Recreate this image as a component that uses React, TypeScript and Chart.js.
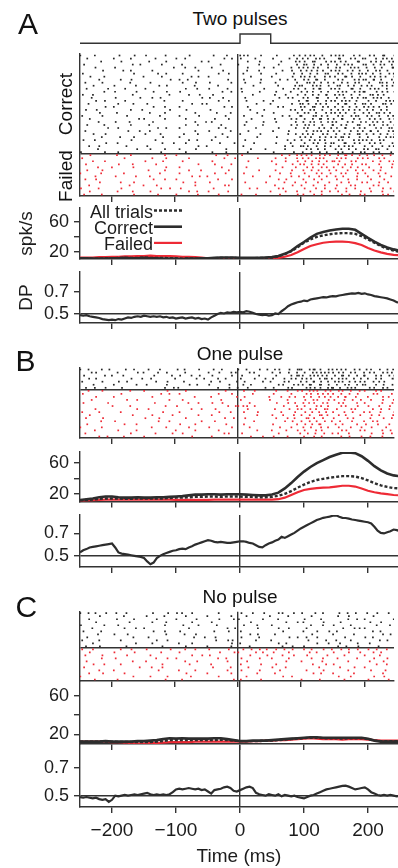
import React, { useEffect, useRef } from 'react';
import { Chart, registerables } from 'chart.js';
Chart.register(...registerables);

// ---------------- data ----------------
const X_MIN = -250;
const X_MAX = 246.875;
const X_TICKS = [-200, -100, 0, 100, 200];
const X_TICK_LABELS = ['\u2212200', '\u2212100', '0', '100', '200'];
const X_TITLE = 'Time (ms)';

const RATE_TICKS = [20, 40, 60];
const RATE_TICK_LABELS = ['20', '', '60'];
const DP_TICKS = [0.5, 0.7];
const DP_TICK_LABELS = ['0.5', '0.7'];
const DP_REFERENCE = [0.5];

const STIM_T = [-250, 0, 0, 48, 48, 250];
const STIM_V = [0, 0, 1, 1, 0, 0];

const RATE_T = Array.from({ length: 51 }, (_, i) => -250 + 10 * i);
const DP_T = Array.from({ length: 101 }, (_, i) => -250 + 5 * i);

const LEGEND_ORDER = ['All trials', 'Correct', 'Failed'];
const TITLES = ['Two pulses', 'One pulse', 'No pulse'];
const PANEL_LETTERS = ['A', 'B', 'C'];
const RASTER_GROUPS = ['Correct', 'Failed'];

// firing rates (spk/s), t = -250..250 ms, 10 ms step
const RATE_A_CORRECT = [
  11, 11, 10.5, 10.5, 10.5, 11, 11, 11.5, 11, 11,
  11.5, 11, 11, 10.5, 10.5, 10.5, 10, 10.5, 10.5, 11,
  11, 11.5, 12, 12, 12, 11.5, 11.5, 11.5, 11.5, 12,
  12.5, 14, 17, 21, 27.5, 33, 39, 44, 46.5, 48.5,
  50, 51, 51, 49.5, 44, 38.5, 33.5, 29, 25.5, 23,
  21,
];
const RATE_A_ALL = [
  11, 11, 10.5, 10.5, 11, 11, 11.5, 11.5, 11.5, 11.5,
  12, 11.5, 11.5, 11.5, 11, 11, 10.5, 11, 10.5, 11,
  11, 11, 11.5, 11.5, 11.5, 11, 11, 11, 11.5, 11.5,
  12, 13.5, 16.5, 20.5, 26, 32, 36.5, 40, 42, 43.5,
  44.5, 45, 45, 44, 41, 36.5, 32, 27.5, 24, 21.5,
  19.5,
];
const RATE_A_FAILED = [
  12, 12, 12, 12.5, 12.5, 13, 13, 13.5, 13.5, 14,
  14, 14.5, 14, 14, 14, 13.5, 13, 13, 12.5, 12,
  11, 10.5, 10.5, 10.5, 10.5, 10.5, 10.5, 10.5, 10.5, 10.5,
  11, 11.5, 13, 15.5, 19, 23.5, 27.5, 30, 32, 33,
  33.5, 33.5, 33, 31.5, 29, 25, 21.5, 19, 17, 15.5,
  15,
];
const RATE_B_CORRECT = [
  12, 13, 14, 15.5, 16.5, 16.5, 15.5, 15, 15, 15.5,
  15, 15, 15.5, 15.5, 16, 16.5, 17, 18, 19, 19,
  19.5, 19.5, 19, 19.5, 19.5, 19.5, 19, 18.5, 18, 18,
  19, 21.5, 27, 34, 42, 49, 55, 60, 64, 68,
  71, 73.5, 74, 73, 69, 63, 56, 50.5, 46.5, 44,
  43,
];
const RATE_B_ALL = [
  11, 12, 12.5, 13.5, 14, 14, 14, 13.5, 13.5, 14,
  14, 14, 14, 14, 14.5, 15, 15, 15.5, 16, 16,
  16.5, 16.5, 16, 16.5, 16.5, 16.5, 16, 16, 15.5, 15.5,
  16, 17.5, 20, 23.5, 28, 32, 35.5, 38, 39.5, 41,
  42, 43, 43, 42.5, 40.5, 37.5, 34, 31, 29, 27.5,
  27,
];
const RATE_B_FAILED = [
  10.5, 11, 11.5, 12, 12.5, 12.5, 12.5, 12.5, 12.5, 12.5,
  12.5, 12.5, 12.5, 12.5, 12.5, 12, 12, 12, 12, 12,
  12, 12.5, 12.5, 12.5, 12.5, 12.5, 12.5, 12.5, 12.5, 12.5,
  12.5, 13, 15, 18.5, 22, 25, 26.5, 27.5, 28, 28.5,
  29.5, 30.5, 30.5, 29.5, 27, 24, 22, 20.5, 19.5, 18.5,
  18,
];
const RATE_C_CORRECT = [
  12.5, 12.5, 12.5, 12.5, 13, 12.5, 12.5, 12.5, 12.5, 13,
  13, 13.5, 14, 15, 16, 15.5, 16, 15.5, 15.5, 15.5,
  15.5, 16, 16, 15, 14, 13, 13, 13.5, 13.5, 13.5,
  14, 14.5, 15, 15.5, 16, 16.5, 17, 17, 16.5, 16.5,
  16.5, 16.5, 16.5, 16.5, 16.5, 15.5, 13.5, 12.5, 12.5, 12.5,
  12.5,
];
const RATE_C_ALL = [
  12.5, 12.5, 12.5, 12.5, 12.5, 12.5, 12, 12, 12, 12,
  12, 12, 12.5, 13, 14, 14, 14, 14, 14, 14,
  14, 14, 14.5, 14, 13.5, 13, 13, 13, 13, 13.5,
  13.5, 14, 14.5, 15, 15.5, 16, 16.5, 16.5, 16, 16,
  16, 15.5, 16, 16, 16, 15, 13.5, 13, 13, 13,
  13,
];
const RATE_C_FAILED = [
  12.5, 12.5, 12.5, 12.5, 12.5, 12, 12, 11.5, 11, 10.5,
  10.5, 11, 11, 11.5, 12, 12, 12, 12, 12.5, 12.5,
  12.5, 12.5, 12.5, 12.5, 12.5, 12.5, 12.5, 13, 13, 13.5,
  13.5, 14, 14, 14.5, 15, 15.5, 16, 15.5, 15, 15,
  15, 14.5, 15, 15, 15, 14.5, 14, 13.5, 13.5, 13.5,
  13.5,
];

// decoding performance, t = -250..250 ms, 5 ms step
const DP_A = [
  0.49, 0.485, 0.49, 0.48, 0.475, 0.47, 0.465, 0.455, 0.45, 0.445,
  0.45, 0.445, 0.455, 0.45, 0.46, 0.47, 0.465, 0.475, 0.48, 0.475,
  0.485, 0.48, 0.475, 0.48, 0.475, 0.48, 0.47, 0.475, 0.465, 0.47,
  0.46, 0.465, 0.47, 0.46, 0.465, 0.47, 0.46, 0.465, 0.455, 0.46,
  0.45, 0.47, 0.485, 0.5, 0.51, 0.505, 0.515, 0.51, 0.52, 0.515,
  0.52, 0.515, 0.525, 0.52, 0.51, 0.5, 0.495, 0.49, 0.495, 0.485,
  0.49, 0.505, 0.5, 0.525, 0.545, 0.57, 0.585, 0.595, 0.605, 0.61,
  0.62, 0.615, 0.63, 0.635, 0.64, 0.645, 0.65, 0.648, 0.655, 0.66,
  0.658, 0.665, 0.67, 0.675, 0.68, 0.685, 0.682, 0.688, 0.68, 0.685,
  0.675, 0.67, 0.66, 0.655, 0.65, 0.645, 0.64, 0.63, 0.62, 0.605,
  0.6,
];
const DP_B = [
  0.53, 0.55, 0.56, 0.575, 0.58, 0.585, 0.59, 0.595, 0.6, 0.605,
  0.61, 0.575, 0.53, 0.52, 0.515, 0.51, 0.505, 0.5, 0.495, 0.49,
  0.48, 0.45, 0.425, 0.44, 0.48, 0.5, 0.515, 0.525, 0.535, 0.545,
  0.55, 0.56, 0.565, 0.56, 0.575, 0.585, 0.6, 0.61, 0.62, 0.63,
  0.64, 0.635, 0.625, 0.62, 0.625, 0.62, 0.615, 0.615, 0.62, 0.625,
  0.63, 0.63, 0.625, 0.615, 0.61, 0.595, 0.58, 0.575, 0.595, 0.61,
  0.62, 0.635, 0.645, 0.67, 0.66, 0.675, 0.69, 0.705, 0.725, 0.745,
  0.76, 0.775, 0.79, 0.805, 0.82, 0.83, 0.84, 0.845, 0.85, 0.858,
  0.862, 0.85, 0.84, 0.838, 0.832, 0.825, 0.82, 0.815, 0.81, 0.805,
  0.8, 0.79, 0.76, 0.725, 0.705, 0.7, 0.71, 0.72, 0.735, 0.73,
  0.72,
];
const DP_C = [
  0.49, 0.485, 0.49, 0.485, 0.48, 0.485, 0.475, 0.47, 0.475, 0.455,
  0.47, 0.5, 0.495, 0.5, 0.505, 0.5, 0.505, 0.51, 0.505, 0.51,
  0.515, 0.52, 0.51, 0.505, 0.51, 0.505, 0.51, 0.505, 0.51, 0.525,
  0.545, 0.55, 0.545, 0.55, 0.555, 0.55, 0.545, 0.55, 0.54, 0.545,
  0.53, 0.515, 0.54, 0.545, 0.55, 0.56, 0.565, 0.555, 0.535, 0.53,
  0.54, 0.55, 0.56, 0.565, 0.555, 0.52, 0.51, 0.505, 0.5, 0.51,
  0.505, 0.5, 0.51, 0.495, 0.505, 0.5, 0.495, 0.5, 0.49, 0.485,
  0.48, 0.49, 0.5, 0.505, 0.515, 0.525, 0.535, 0.545, 0.55, 0.555,
  0.56, 0.565, 0.57, 0.572, 0.565, 0.555, 0.545, 0.55, 0.555, 0.56,
  0.545, 0.525, 0.515, 0.505, 0.5, 0.505, 0.5, 0.505, 0.5, 0.495,
  0.5,
];

// spike rasters: one string per trial (top row first), one char per 5 ms bin from -250 ms.
// a spike is marked by a letter giving its position inside the bin: a=0.1 b=0.3 x=0.5 c=0.7 d=0.9
const RASTER_T0 = -250;
const RASTER_BIN_MS = 5;
const SPIKE_POS: Record<string, number> = { a: 0.1, b: 0.3, x: 0.5, c: 0.7, d: 0.9 };

const RASTER_A_CORRECT = [
  'a...c..... ..x....b.. d......a.. ....c..... ..b...x... cd.a...b.. ..b....c.x .bd.a.c..x d.ab..c.x. .c.a.db..x',
  '..b....... c.....a... ...d...... x..b...... .....c..a. d....x.... .a....b.c. x.a.cd.b.. .db..c.a.x b..c.d.ac.',
  '......c... ...a...... .d.....b.. ........x. c......... ...a..d... ...c....bx .a.cb..d.x c.x.a..db. ..ac.b.d.a',
  '.b........ ......c..a .....d.... ..b....... ....x..... a.....c... ..d.....c. dc..a.b.x. .b.cd.a..c x.d..ab.c.',
  '....d..... .a........ .........c ...b..x... .c........ ...a....b. .b....d..b c.ad.b..x. .ab..cd.a. c..b.x..da',
  '.......b.. ...c..a... ..d....... .......x.. .....b.... ..d...c... ....a..a.d .c.b.ad..x d.a.c.b.x. .a.cd..b.c',
  'd......... .......a.. ....c..b.. ..x....... ...d...a.. .c.....b.. ..a....c.. b.d..a.cx. .c.a.d..bb x.c..a.d.b',
  '...b...c.. .......... a....d.... .....b.x.. c......... ....a..... c......b.d .ac.b..x.a c..db.a.c. .d.b.ac..x',
  '......a... ..d...b... ........c. .x..a..... ......d... .d.....b.. ...b.c..a. d.b.ca.x.. .c.a..d.bc x.da.b..c.',
  '.c.....a.. .....d.... ..b....... ..x...c... .a.....d.. ..b....a.. .d......c. .dc.a.b.x. b.d.c..ab. .x..dc.a.b',
  '....b..... d......c.. .....a.x.. ......b... ...c...... ....d..... ..c.....ax b..cd.a.c. .xb.d.c..a d.b..c.ad.',
  '..a.....d. ....b..... c......... ...x...a.. d.....c... .a......b. ....b..c.a .b.d.ca..x c.a..db.c. .d.bx..a.c',
  '.......c.. .a.....d.. ...b...x.. .c........ .....a.d.. .b....d... ..a...c... ad.c..b.x. .c.ab.d.xc a..d.c.b.x',
  'd...a..... ......c... ........b. ....x..d.. ..a....... ....c..... .c...a..d. .b.c.x.da. c.ab.d..x. .dc.b.a..c',
  '...c...... .b.......a ..d..x.... ........c. .a...b.... ..b....... ...a.d.b.. c.a.db..x. .b.c..ad.c x.d.ab.c..',
  '.....a.d.. ....b..... ......c... ..x....... ...d...a.. ..c.....a. .a.......b .ca..b.d.x c.d.ab.x.. .b.c..d.ab',
  '..c....... ..a...d... .b........ .....x..c. a......... .....d.... b......a.c x.b.c.ad.. .c.db..a.x b.a..dc.x.',
  '........a. c......... ...b..d... .x........ .....c..a. ...a...... ..c.b....d .a.cb.d.x. c..a.b.x.d .bd.c..a.c',
  '.d...b.... ......a..c ........x. ...c...... .b........ ...d....b. ......c.a. b.d.a.c..x .c.b.ad.x. d.c..b.a.c',
  '......b... .c........ ..a...d... ......x... ...b...c.. ......a... .b......d. .ab.c..d.x c.b.a.d..c .x.dc.b.a.',
  'c......a.. ....d..... .....b.... .x.....c.. ......a... .d.....c.. ....a.b..c a..dc.x.b. .c.a.d.ba. d.b.c..x.a',
  '...a...... ........c. b.....d... ...x...... ..c....a.. ....b..... .c....d.x. .a.c.db.x. b.da..c.x. .c.b.a.d.x',
  '.....d.... .b...c.... ...a...... ......x..d .c........ ..c.....a. ..a.....b. c.d.a.b.xd .a..c.b.d. x.c.ad..b.',
  '..b....c.. ......a... .d........ ...x...b.. ....c..... ..a....d.. ......d.c. .bx.a.c..d a.c.b..dx. .c.a.d.b.x',
  '........d. ..a....... ....c..b.. .x........ ...d..a... .....c.... ..d.....b. d.a..c.b.x .b.da.c.x. a..c.b.dc.',
  '.c........ .....b..d. ..a....... ......x... d......c.. ...b...... .a....a... .c.d.ab.x. b.a..c.d.x .da.b..c.a',
  '....b...a. .......... c....x.... ..d....b.. .....a.... c......a.. .....d..b. x.ac..d.b. .a.c.b.dx. c.d..a.b.x',
  '......d... ..c....a.. ......b... .x........ ..d...c... ......a... ..b......c .b.a.d.c.x d.cb.a..x. .a..c.d.bb',
  '.a..c..... ......b... ...d...... ....x..a.. .c........ ..b....... .....c.d.. a.c.bd.x.. .d.a..c.bx c.b.d.a..c',
  '........b. .d........ ......a..c ...x...... ....b...d. .....a.... ..a...c... .a.d.b.c.x b..ca.d.x. .c.b.a..d.',
  '..d...a... ....c..... .b........ .......x.. a......... .c........ ....d..b.d c.a.d..x.b .d.c.ab... a.x..c.d.b',
  '.....c.... ........a. ..b...d... .x....c... ......b... ....a...c. ....d..... .c.a.b.x.. d.c..a.b.d .a.cx..b..',
  'b......d.. ..a....... .....c.... ...x...... .d....b... ...a...... .b.....c.. x..b.d..a. .c.a..b.d. a.d.c...x.',
];
const RASTER_A_FAILED = [
  '...b...... .c....a... ......d... x......... ...a..c... .b........ ...d..b.c. ac.b.d.x.a .c.db.a.x. d..a.c..b.',
  'c......... ....a..... ..d....b.. ....x..... .....c...a ......b... .d...a..c. x.b.cd.a.. .bc.a..d.x .a..c.b..d',
  '....a..d.. .......... c.....b... ..x....... .d........ ...b...... c....a..d. .b.x.c..ad x.a..d.b.. ..c..a.d.b',
  '.d........ ..b...c... ....a..... .......x.. ..c....d.. .......... ..a....b.c d..b.x.a.. .c.d..a..b x...c...d.',
  '.....c.... a.....d... .......b.. .x........ ....d..... ..c....... ....a...b. .d.c..x.a. b..a.c.d.. .x...b..c.',
  '..b....a.. .......... .c....d... ....x...b. .......a.. ......c... .d.....a.. c..b.x..d. .a..c..b.x ..d..a...c',
  'a.....c... ...d...... .....b.... .x........ ..c...a... .d........ ...b..c... .a..d.x..b ..c.a..d.. b...x.c...',
  '....d..... .b.....c.. ..a....... .....x.d.. b......... ....c..... a.....d..b ..x..c..a. d..b...c.. .a..d...x.',
  '.c...a.... .......... ...b..d... x......... ...c....a. .......... ..d..b.... c...a.x... .b..d..c.. ..a...b..d',
  '......b... ..d....a.. .......... ..c...x... .a........ ..b.....d. ....c...a. .x...b..d. ..c..a...b d...c..x..',
  '..d....... .....c.... a...b..... ......x... .....d.a.. .......... .c.....b.. a..d...x.. .b...c.a.. ..d.x....c',
  'b....d.... ...a...... .....c..x. .d........ ..b....... ...c..a... ..d.b..... .a..c..x.. d...b..a.. .c...d..b.',
  '...a...... .d....c... ..b....... ....x..a.. c.....d... .......... b....a..c. ..d...x..a .c..b...d. ..a..c...x',
  '.b....d... .......a.. ....c..... x......b.. ...d...... .a...c.... ...b....d. c...a.x... ..d..b..c. a....d.x..',
];
const RASTER_B_CORRECT = [
  'a.c...d..b ....x..a.. .c...b.... d..a...c.. ..b.d..... a.c...d..b .c.a..b.dx a.cdb.a.cd .bc.a.d.x. c.a.d..b.a',
  '...c.a.... .d......b. a...c..x.. ...b...... c...a..d.b ...c.a.... d..b..a.c. .a.cd.bxc. ad.b.c.a.d .c.a.d.bc.',
  '.b.....d.. a..c...... ...x.....a .c...b.d.. .d......a. .b....c... ..a...d.cb x.d.abc.a. c.db.a.c.d a..c.b.d.x',
  '..d..a.... ......b..c ..x....... a.....d..b ...c..a... d....b..c. .a..c.d.b. bc.a.d.xac .d.ab.c.d. .a.c.b..dx',
  'c......a.. ..b.d..... ....a..c.. ..d....... .x..b....c ..a....d.. b...c.a..d .c.da.b.x. cd.a.b.ac. a.d.c.b..c',
  '....b..... c......d.. .a.....x.. ....c..a.. d......b.. .c..a..... ..d.b..c.a x.ca.db.c. .b.d.a.c.x b..c..a.d.',
  '.d..c...a. ...b...... ......d..c .a........ ...c...b.d ...a....c. .b...d.a.. .cd.b.a.xc a.b.cd.a.. .c.a.d.b.d',
];
const RASTER_B_FAILED = [
  '..c....a.. .....d.... b......c.. ...x...... ......a... .d...b.... ..a..c..d. b.cd.a.c.b .d.a.c..x. a..c.b...d',
  'd......... ...a...... .....c..b. .x........ ...d....a. ....c..... .b....d... .c.a.bd.x. a.c..b.d.. ..d.a...c.',
  '.....a.... c......... ..d....... ......b... .x.......c ..a......d ...c..b.a. d..a.c.x.b .c.da..b.. .a...d.c..',
  '...c...... ....d...a. ........b. ..x....... ....c..... d......... a....c.... .b.d.a..c. x..c..b.d. ..a..d...b',
  '.a......d. .......... ...c...... ....b..x.. .d...a.... ...c...... ..b..d..a. c.x.a.d.b. .d.b...c.. a....c..d.',
  '.......... b....d.... .......a.. c......... ......d..b acd..b.... ....x...c. .a..d.b.x. ..c.a..d.. .b..c...a.',
  '....d..... ........a. .c........ .....b..x. ..d....... ...a...... .c....b.d. a.d.c..xb. .b...d.a.. ..c..b.d..',
  'c.....a... ..d....... ......b... .x........ ....a..c.. .d....b... ...c....a. .b.x.c.d.. a..c..b..d .c...a...x',
  '...a...... ......c... ..d......b .......x.. .c........ ......a... d...b..c.. a.c..dx.b. .d..a...c. ..b.c....a',
  '.d.....b.. .......... c....a.... ...x...... .....d..c. ..b....... ..a..c.d.. .cb.a.d... b...c.x... .d....a.c.',
  '......c... .a........ ....d...b. ........x. ..c....... .....a.... ....d..b.. a.c.d..x.c ..b...a..d ..c.a.....',
  '..b....... ....a..d.. .......... .c....x... ......b... .d........ .a......c. .b.x.ca... d..a...c.. x...b..d..',
  'a.....d... .......... ..c....b.. ....x..... d.......a. ...c...... ...b..d... c..a..b.x. .d...c...a ..b...d...',
  '....c..... ..a....d.. .......... b.....x... ...d...... ......a... c....b..d. .a..c.x... ..d.b...c. a....c..b.',
  '.c........ ......a... ...d.....b ..x....... .....c.a.. .b........ ..d......c ..a.x..b.d .c...a.... ..b..d..c.',
  '......a.c. ...d...... b......... .....x.... .c........ ....a..d.. .b...c.... d...a.x... ..c..b...a .d...c....',
];
const RASTER_C_CORRECT = [
  'a.c.d...b. .x..c..... ...a...d.. c.b..x.... ...d...... .a..c...b. ..d.a..c.. b...x.d... ..a.c..b.. d...a..c..',
  '......b... ...d...... .a....c... ...x...... b......d.. ..c....... a....d.... ...b...... .c...a.... ..d.......',
  '..d....... .c.....a.. ....b..... x.....d... ....a...c. b......d.. ..c....... .a....b... ....d..c.. a........b',
  '.....a.... .....c.... ..d....b.. .....x.... .c........ ....a..... .....b..d. c......a.. ..x....... .d...b....',
  'b......c.. ..a....... ......d... ..c....x.. ...b...... .d....a... c......... ...a..d... b....c.... ...d....a.',
  '...d...... ....a..c.. b......... ....x..... ......c..a ......b... ..d...a... .c........ ...b..d.x. a.........',
  '.a....c... .......... ...b..d... .c........ ..x....a.. d......... ....b..... c....a..d. .b........ ..c..a....',
  '.....c.... d....a.... .......b.. ...a..c... .......... ...d..b... .c........ ...x...... a.....c... .....d..b.',
  '..b....... ......d... .c........ ......a..x ..d....... .a....c... ......b.d. .c...a.... ...d...... b.c.......',
  'c.....a... ..d....... ....b..c.. .......... ...a..d.b. .....c.... x......... ..b....d.. .a...c.... ....d..b..',
  '....a..... .......c.. ..d....... .b...x.... ........a. c......... ..d..b.... .....a..c. ..b....d.. .c........',
  '.d....b... ....c..... ......a... ...x...... b......d.. ...c...... ....a..b.. d......... .c..b...a. ....x.....',
];
const RASTER_C_FAILED = [
  'c...a..... ..d...b... .a......c. ...b..x... d......a.. .c..b.d..a ..a.c..b.. d..b...a.c ..c..a.d.. .b.d...a..',
  '...a...... d......b.. .....c.... .x........ ....b...d. a....c.d.. .b....a... ..c.d..... b....a..c. ..d..b....',
  '.c.....a.. ....d..... ..b....... .....x..c. .a........ ...d.....b ....a..c.. .d......b. ...c...... a...d.....',
  '......d... .b........ ....a..c.. x......... ...c..b... .a....d... c.....a... ...b..d... .x.....c.. ...a...b..',
  '..a....... ......c... d......... ...b...a.. ......c... ..d....... .....b.... a.....c... ....d..... .c....a...',
  '....b..c.. ..d....... ......a... ....c..... .x........ d......b.. ..a....... ...c...d.. b......... ...d...a..',
  '.b........ ........d. ..c...a... .......... ..a....c.. ...b...... d....a.... .....c.... ..b...d... a........c',
  '......a... c......... ....d..... .b....x... ......c... .a....d... ...b...... .c.....a.. ....d..... ..a...c...',
  '..d....b.. ....a..... .......... ...c...... b......d.. ......a... .c........ ...d..b... a.....c... .....d....',
  'a......... ......d... ..b....c.. .....a.... ...d...... ..c....... ....b..a.. .......... .d...c.... ...a..b..d',
  '....c..... .d........ .......a.. ..b....... ........c. d......b.. .......... a....d.... ...c...... .b.....c..',
];

// ---------------- styling ----------------
const FONT = "'Liberation Sans', Arial, Helvetica, sans-serif";
const INK = '#1c1c1c';
const LINE = '#2d2d2d';
const AXIS = '#333333';
const RED = '#ee2a35';
const CLEAR = 'rgba(0,0,0,0)';
const AXIS_W = 1.4;

type Spec = {
  kind: 'stim' | 'panel';
  canvasTop: number;
  canvasH: number;
  padTop: number;
  padBottom: number;
  datasets: any[];
  yMin: number;
  yMax: number;
  yTicks?: number[];
  yLabels?: string[] | null;
  yGridAt?: number[];
  yTickMarks?: boolean;
  yTitle?: string;
  xLabels?: boolean;
  legend?: boolean;
};

function series(ts: number[], vs: number[]) {
  return ts.map((t, i) => ({ x: t, y: vs[i] }));
}

function lineSet(label: string, ts: number[], vs: number[], color: string, width: number, dash: number[] = []) {
  return {
    type: 'line',
    label,
    data: series(ts, vs),
    borderColor: color,
    backgroundColor: color,
    borderWidth: width,
    borderDash: dash,
    pointRadius: 0,
    tension: 0,
    fill: false,
  };
}

function rateSets(correct: number[], all: number[], failed: number[]) {
  return [
    lineSet('Correct', RATE_T, correct, LINE, 2.6),
    lineSet('All trials', RATE_T, all, LINE, 2.4, [3, 2]),
    lineSet('Failed', RATE_T, failed, RED, 2.2),
  ];
}

function rasterPoints(rows: string[], topY: number) {
  const pts: { x: number; y: number }[] = [];
  rows.forEach((row, r) => {
    const cells = row.replace(/\s/g, '');
    for (let i = 0; i < cells.length; i++) {
      const pos = SPIKE_POS[cells[i]];
      if (pos !== undefined) pts.push({ x: RASTER_T0 + (i + pos) * RASTER_BIN_MS, y: topY - r - 0.5 });
    }
  });
  return pts;
}

function rasterSets(correct: string[], failed: string[]) {
  const nF = failed.length;
  const total = nF + correct.length;
  const dot = (label: string, data: any[], color: string) => ({
    type: 'scatter',
    label,
    data,
    pointStyle: 'rect',
    pointRadius: 1.2,
    pointBorderWidth: 0,
    pointBackgroundColor: color,
    borderColor: color,
    backgroundColor: color,
  });
  return [dot('Correct', rasterPoints(correct, total), '#262626'), dot('Failed', rasterPoints(failed, nF), RED)];
}

function rasterSpec(canvasTop: number, canvasH: number, padTop: number, correct: string[], failed: string[]): Spec {
  return {
    kind: 'panel', canvasTop, canvasH, padTop, padBottom: 8,
    datasets: rasterSets(correct, failed),
    yMin: 0, yMax: correct.length + failed.length,
    yTicks: [failed.length], yLabels: null, yGridAt: [failed.length], yTickMarks: false,
  };
}

function rateSpec(canvasTop: number, canvasH: number, padTop: number, padBottom: number, yMin: number, yMax: number, sets: any[], extra: Partial<Spec> = {}): Spec {
  return {
    kind: 'panel', canvasTop, canvasH, padTop, padBottom, datasets: sets, yMin, yMax,
    yTicks: RATE_TICKS, yLabels: RATE_TICK_LABELS, yGridAt: [], yTickMarks: true, ...extra,
  };
}

function dpSpec(canvasTop: number, canvasH: number, padTop: number, padBottom: number, yMin: number, yMax: number, values: number[], extra: Partial<Spec> = {}): Spec {
  return {
    kind: 'panel', canvasTop, canvasH, padTop, padBottom,
    datasets: [lineSet('DP', DP_T, values, LINE, 2.2)],
    yMin, yMax, yTicks: DP_TICKS, yLabels: DP_TICK_LABELS, yGridAt: DP_REFERENCE, yTickMarks: true, ...extra,
  };
}

const SPECS: Spec[] = [
  {
    kind: 'stim', canvasTop: 30, canvasH: 18, padTop: 4, padBottom: 4.7,
    datasets: [{ type: 'line', label: 'Stimulus', data: series(STIM_T, STIM_V), borderColor: AXIS, borderWidth: 1.4, pointRadius: 0, tension: 0, clip: false }],
    yMin: 0, yMax: 1,
  },
  rasterSpec(44, 160, 10, RASTER_A_CORRECT, RASTER_A_FAILED),
  rateSpec(196, 71, 12, 8, 10, 79, rateSets(RATE_A_CORRECT, RATE_A_ALL, RATE_A_FAILED), { yTitle: 'spk/s', legend: true }),
  dpSpec(262, 69, 10, 8, 0.42, 0.875, DP_A, { yTitle: 'DP' }),
  rasterSpec(358, 88, 10, RASTER_B_CORRECT, RASTER_B_FAILED),
  rateSpec(442, 68, 10, 8.5, 10, 74.5, rateSets(RATE_B_CORRECT, RATE_B_ALL, RATE_B_FAILED)),
  dpSpec(505, 70, 10, 8, 0.40, 0.865, DP_B),
  rasterSpec(601, 88, 10.7, RASTER_C_CORRECT, RASTER_C_FAILED),
  rateSpec(671, 81, 10, 8, 10, 75, rateSets(RATE_C_CORRECT, RATE_C_ALL, RATE_C_FAILED)),
  dpSpec(735, 133, 10, 61, 0.418, 0.866, DP_C, { xLabels: true }),
];

const legendRowsPlugin = {
  id: 'legendRows',
  afterDatasetsDraw(chart: any, _args: any, opts: any) {
    if (!opts || !opts.show) return;
    const { ctx, chartArea } = chart;
    ctx.save();
    ctx.font = `${opts.fontSize}px ${FONT}`;
    ctx.textAlign = 'right';
    ctx.textBaseline = 'alphabetic';
    LEGEND_ORDER.forEach((label, i) => {
      const ds = chart.data.datasets.find((d: any) => d.label === label);
      if (!ds) return;
      const base = chartArea.top + opts.firstBaseline + i * opts.rowGap;
      ctx.fillStyle = INK;
      ctx.fillText(label, opts.textRight, base);
      ctx.beginPath();
      ctx.strokeStyle = ds.borderColor;
      ctx.lineWidth = ds.borderWidth;
      ctx.setLineDash(ds.borderDash || []);
      ctx.moveTo(opts.textRight + 1, base - opts.lineLift);
      ctx.lineTo(opts.lineEnd, base - opts.lineLift);
      ctx.stroke();
    });
    ctx.restore();
  },
};

function buildConfig(s: Spec): any {
  if (s.kind === 'stim') {
    return {
      type: 'line',
      data: { datasets: s.datasets },
      options: {
        animation: false, responsive: false, devicePixelRatio: 1, events: [],
        layout: { padding: { top: s.padTop, bottom: s.padBottom, left: 80, right: 0 } },
        plugins: { legend: { display: false }, tooltip: { enabled: false } },
        scales: {
          x: { type: 'linear', display: false, min: X_MIN, max: X_MAX },
          y: { type: 'linear', display: false, min: s.yMin, max: s.yMax },
        },
      },
    };
  }
  const tickFont = { family: FONT, size: 18 };
  return {
    type: 'line',
    data: { datasets: s.datasets },
    options: {
      animation: false, responsive: false, devicePixelRatio: 1, events: [],
      layout: { padding: { top: s.padTop, bottom: 0, left: 0, right: 0 } },
      plugins: {
        legend: { display: false },
        tooltip: { enabled: false },
        legendRows: { show: !!s.legend, fontSize: 18, textRight: 153, lineEnd: 182, firstBaseline: 9.7, rowGap: 16.2, lineLift: 7.2 },
      },
      scales: {
        x: {
          type: 'linear', min: X_MIN, max: X_MAX,
          afterBuildTicks: (sc: any) => { sc.ticks = X_TICKS.map((v) => ({ value: v })); },
          afterFit: (sc: any) => { sc.height = s.padBottom; sc.paddingLeft = 0; sc.paddingRight = 0; },
          border: { display: true, color: AXIS, width: AXIS_W },
          grid: {
            color: (c: any) => (c.tick && c.tick.value === 0 ? AXIS : CLEAR),
            lineWidth: AXIS_W, drawTicks: true, tickLength: 6, tickColor: AXIS, tickWidth: AXIS_W,
          },
          ticks: {
            display: !!s.xLabels, autoSkip: false, maxRotation: 0, padding: 6, color: INK,
            font: { family: FONT, size: 19 },
            callback: (_v: any, i: number) => X_TICK_LABELS[i],
          },
          title: s.xLabels
            ? { display: true, text: X_TITLE, color: INK, font: { family: FONT, size: 19 }, padding: { top: 0, bottom: 0 } }
            : { display: false },
        },
        y: {
          type: 'linear', min: s.yMin, max: s.yMax,
          afterBuildTicks: (sc: any) => { sc.ticks = (s.yTicks || []).map((v) => ({ value: v })); },
          afterFit: (sc: any) => { sc.width = 80; sc.paddingTop = 0; sc.paddingBottom = 0; },
          border: { display: true, color: AXIS, width: AXIS_W },
          grid: {
            color: (c: any) => (c.tick && (s.yGridAt || []).includes(c.tick.value) ? AXIS : CLEAR),
            lineWidth: AXIS_W, drawTicks: !!s.yTickMarks, tickLength: 6, tickColor: AXIS, tickWidth: AXIS_W,
          },
          ticks: {
            display: !!s.yLabels, autoSkip: false, padding: 5, color: INK, font: tickFont,
            callback: (_v: any, i: number) => (s.yLabels ? s.yLabels[i] : ''),
          },
          title: s.yTitle
            ? { display: true, text: s.yTitle, color: INK, font: { family: FONT, size: 19 }, padding: { top: 15.3, bottom: 0 } }
            : { display: false },
        },
      },
    },
    plugins: [legendRowsPlugin],
  };
}

const textBase: React.CSSProperties = {
  position: 'absolute', fontFamily: FONT, color: '#111', lineHeight: 1, whiteSpace: 'nowrap', margin: 0,
};

export default function App() {
  const refs = useRef<(HTMLCanvasElement | null)[]>([]);
  useEffect(() => {
    const charts = SPECS.map((s, i) => new Chart(refs.current[i] as HTMLCanvasElement, buildConfig(s)));
    return () => charts.forEach((c) => c.destroy());
  }, []);

  const letterTops = [8.6, 345.6, 591.6];
  const letterLefts = [18, 15.6, 15.5];
  const titleTops = [8.9, 343.9, 586.9];

  return (
    <div style={{ position: 'absolute', left: 0, top: 0, width: 398, height: 868, overflow: 'hidden', background: '#fff' }}>
      {SPECS.map((s, i) => (
        <canvas
          key={i}
          ref={(el) => { refs.current[i] = el; }}
          width={398}
          height={s.canvasH}
          style={{ position: 'absolute', left: 0, top: s.canvasTop, width: 398, height: s.canvasH }}
        />
      ))}
      {PANEL_LETTERS.map((L, i) => (
        <div key={L} style={{ ...textBase, left: letterLefts[i], top: letterTops[i], fontSize: 30 }}>{L}</div>
      ))}
      {TITLES.map((t, i) => (
        <div key={t} style={{ ...textBase, left: 140, width: 200, textAlign: 'center', top: titleTops[i], fontSize: 19 }}>{t}</div>
      ))}
      {RASTER_GROUPS.map((g, i) => (
        <div
          key={g}
          style={{
            ...textBase, left: 65.4, top: i === 0 ? 104 : 175.5, fontSize: 19,
            transform: 'translate(-50%, -50%) rotate(-90deg)',
          }}
        >
          {g}
        </div>
      ))}
    </div>
  );
}
